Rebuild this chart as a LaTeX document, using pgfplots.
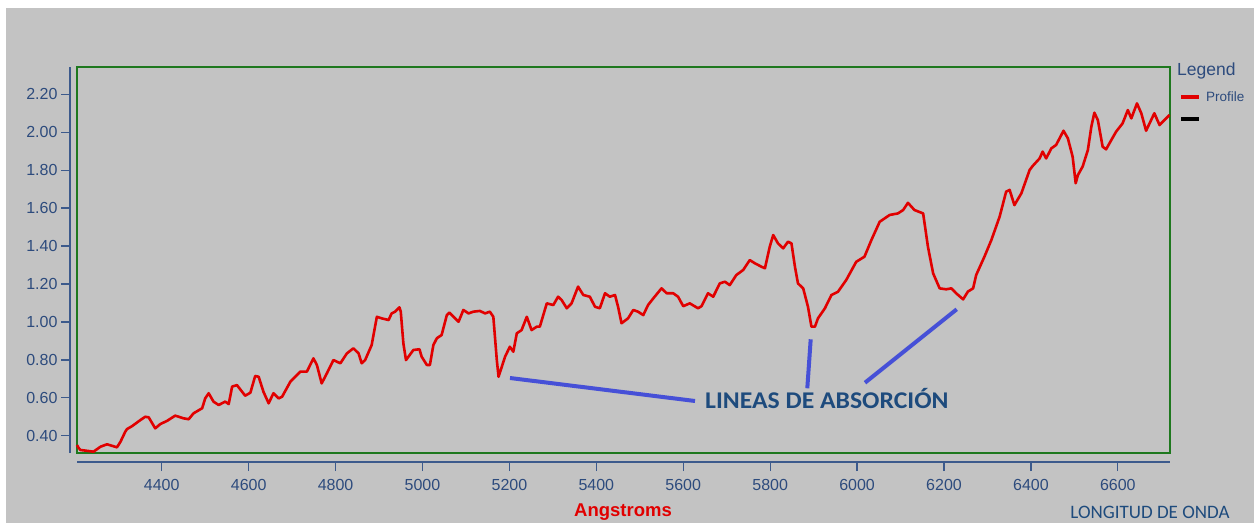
\documentclass[border=0pt]{standalone}
\usepackage{pgfplots}
\usepackage{pgfplotstable}
\pgfplotsset{compat=1.18}
\usepackage{fontspec}
\setmainfont{Liberation Sans}
\newfontfamily\calib{Carlito}
\definecolor{bggray}{RGB}{195,195,195}
\definecolor{framegreen}{RGB}{30,120,30}
\definecolor{axblue}{RGB}{60,90,140}
\definecolor{tickblue}{RGB}{45,75,125}
\definecolor{profred}{RGB}{225,0,0}
\definecolor{annblue}{RGB}{70,80,215}
\definecolor{anntext}{RGB}{30,75,125}
\pgfplotstableread{
lambda val
4205 0.351
4209 0.335
4213 0.325
4243 0.316
4259 0.342
4274 0.355
4297 0.339
4305 0.368
4316 0.421
4320 0.435
4332 0.451
4351 0.483
4362 0.500
4370 0.497
4385 0.439
4397 0.462
4412 0.478
4431 0.506
4450 0.492
4462 0.487
4473 0.518
4493 0.545
4500 0.597
4508 0.624
4519 0.580
4531 0.562
4546 0.580
4554 0.567
4562 0.659
4573 0.667
4592 0.611
4604 0.627
4615 0.715
4623 0.711
4634 0.632
4646 0.571
4657 0.624
4669 0.597
4677 0.606
4696 0.685
4719 0.738
4734 0.738
4749 0.808
4757 0.773
4768 0.676
4780 0.729
4795 0.799
4811 0.782
4826 0.834
4841 0.861
4853 0.834
4860 0.782
4868 0.799
4883 0.878
4895 1.027
4906 1.019
4922 1.010
4929 1.045
4937 1.054
4947 1.077
4950 1.054
4956 0.887
4962 0.799
4979 0.852
4993 0.856
4998 0.817
5010 0.773
5017 0.773
5025 0.878
5033 0.914
5044 0.931
5056 1.036
5062 1.049
5083 1.001
5094 1.063
5106 1.045
5117 1.054
5132 1.058
5144 1.045
5155 1.054
5163 1.027
5171 0.799
5175 0.711
5180 0.746
5190 0.817
5201 0.869
5209 0.843
5217 0.940
5228 0.957
5240 1.027
5251 0.957
5263 0.975
5270 0.975
5286 1.098
5301 1.089
5312 1.133
5320 1.116
5332 1.072
5343 1.098
5358 1.186
5370 1.142
5385 1.133
5397 1.080
5408 1.072
5420 1.151
5431 1.133
5443 1.142
5450 1.080
5458 0.993
5473 1.019
5485 1.063
5496 1.054
5508 1.036
5519 1.089
5531 1.124
5550 1.177
5562 1.151
5577 1.151
5588 1.133
5600 1.083
5615 1.098
5634 1.072
5642 1.083
5657 1.151
5669 1.133
5684 1.203
5696 1.212
5707 1.194
5722 1.247
5738 1.274
5753 1.326
5765 1.309
5780 1.291
5788 1.283
5799 1.396
5807 1.458
5818 1.414
5830 1.388
5841 1.423
5849 1.414
5857 1.291
5864 1.203
5876 1.177
5887 1.080
5895 0.975
5903 0.975
5910 1.019
5926 1.072
5941 1.142
5956 1.159
5975 1.221
5998 1.317
6017 1.344
6033 1.432
6052 1.528
6075 1.564
6094 1.572
6106 1.590
6117 1.628
6132 1.590
6152 1.572
6163 1.397
6175 1.256
6190 1.177
6205 1.172
6217 1.177
6228 1.151
6244 1.119
6255 1.160
6267 1.177
6274 1.247
6293 1.344
6309 1.432
6328 1.555
6343 1.687
6351 1.696
6362 1.616
6378 1.678
6397 1.801
6404 1.822
6420 1.862
6427 1.898
6435 1.862
6447 1.915
6458 1.933
6475 2.008
6485 1.968
6496 1.871
6503 1.731
6508 1.774
6519 1.819
6531 1.906
6539 2.029
6546 2.103
6554 2.064
6565 1.924
6573 1.910
6585 1.959
6596 2.003
6611 2.047
6623 2.117
6631 2.073
6644 2.152
6654 2.100
6665 2.008
6684 2.100
6696 2.038
6707 2.064
6719 2.091
}\spectrum
\begin{document}
\begin{tikzpicture}[x=1pt,y=1pt]
\fill[white] (0,0) rectangle (1254,523);
\fill[bggray] (6,0) rectangle (1254,515);
\begin{axis}[
  at={(77pt,70pt)}, anchor=south west,
  scale only axis, width=1093pt, height=386pt,
  xmin=4205, xmax=6720, ymin=0.309, ymax=2.344,
  clip=false,
  axis lines*=left,
  axis x line shift=9pt, axis y line shift=7pt,
  every non boxed x axis/.append style={x axis line style=-},
  every non boxed y axis/.append style={y axis line style=-},
  axis line style={draw=axblue, line width=1.5pt},
  tick align=outside, major tick length=9pt,
  tick style={draw=axblue, line width=1.3pt},
  xtick={4400,4600,4800,5000,5200,5400,5600,5800,6000,6200,6400,6600},
  ytick={0.4,0.6,0.8,1.0,1.2,1.4,1.6,1.8,2.0,2.2},
  /pgf/number format/assume math mode=true,
  xticklabel style={font=\fontsize{16}{18}\selectfont, text=tickblue, yshift=-5pt, /pgf/number format/1000 sep={}},
  yticklabel style={font=\fontsize{16}{18}\selectfont, text=tickblue,
    /pgf/number format/fixed, /pgf/number format/fixed zerofill, /pgf/number format/precision=2},
]
\draw[framegreen, line width=1.6pt] (rel axis cs:0,0) rectangle (rel axis cs:1,1);
\addplot[profred, line width=2.6pt, line join=round] table[x=lambda, y=val] {\spectrum};
\end{axis}
% annotation
\draw[annblue, line width=4pt] (510,145) -- (695,122);
\draw[annblue, line width=4pt] (810.7,183.7) -- (807.3,134.7);
\draw[annblue, line width=4pt] (865,140.3) -- (956.7,213.7);
\node[anchor=west, inner sep=0pt, xscale=1.07, text=anntext, font=\calib\bfseries\fontsize{24}{28}\selectfont] at (705,124) {LINEAS DE ABSORCIÓN};
% axis titles
\node[inner sep=0pt, text=profred, font=\bfseries\fontsize{18.5}{22}\selectfont] at (623,11) {Angstroms};
\node[inner sep=0pt, text=anntext, font=\calib\fontsize{19}{22}\selectfont] at (1150,11) {LONGITUD DE ONDA};
% legend
\node[anchor=west, inner sep=0pt, text=tickblue, font=\fontsize{17.5}{20}\selectfont] at (1177,452) {Legend};
\draw[profred, line width=3.5pt] (1181,426) -- (1199,426);
\node[anchor=west, inner sep=0pt, text=tickblue, font=\fontsize{13.5}{16}\selectfont] at (1206,426) {Profile};
\draw[black, line width=3.5pt] (1181,404) -- (1199,404);
\pgfresetboundingbox
\useasboundingbox (0,0) rectangle (1254,523);
\end{tikzpicture}
\end{document}
